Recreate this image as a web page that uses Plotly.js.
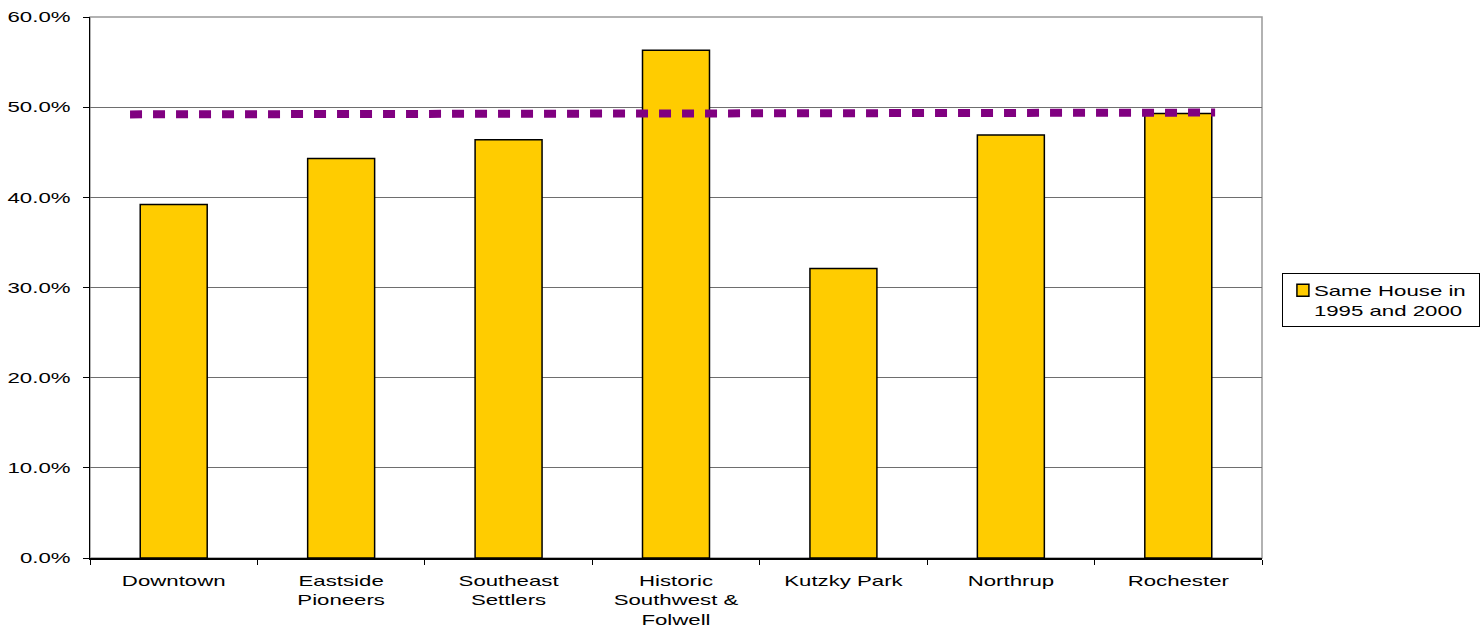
<!DOCTYPE html>
<html>
<head>
<meta charset="utf-8">
<script src="https://cdn.plot.ly/plotly-3.0.1.min.js"></script>
<style>
  html, body { margin: 0; padding: 0; background: #ffffff; }
  #chart { width: 1482px; height: 629px; }
</style>
</head>
<body>
<div id="chart"></div>
<script>
// Neighborhoods (category labels, with line breaks as shown on the axis)
const neighborhoods = [
  "Downtown",
  "Eastside<br>Pioneers",
  "Southeast<br>Settlers",
  "Historic<br>Southwest &<br>Folwell",
  "Kutzky Park",
  "Northrup",
  "Rochester"
];

// Share of residents living in the same house in 1995 and 2000 (percent)
const sameHouse = [39.2, 44.3, 46.4, 56.3, 32.1, 46.9, 49.3];

// City-wide reference line (start and end values, percent)
const cityLineX = [0, 1];
const cityLine = [49.2, 49.4];

const yTicks = [0, 10, 20, 30, 40, 50, 60];
const yTickText = yTicks.map(v => v.toFixed(1) + "%");

const font = { family: "Liberation Sans, Arial, sans-serif", size: 15, color: "#000000" };

// horizontal stretch applied to axis and legend lettering
const TEXT_STRETCH = 1.48;

const traces = [
  {
    type: "bar",
    name: "Same House in<br>1995 and 2000",
    x: neighborhoods,
    y: sameHouse,
    marker: { color: "#FFCC00", line: { color: "#000000", width: 1.5 } },
    hoverinfo: "x+y"
  },
  {
    type: "scatter",
    mode: "lines",
    x: cityLineX,
    y: cityLine,
    xaxis: "x2",
    yaxis: "y",
    showlegend: false,
    line: { color: "#800080", width: 8, dash: "12px,11px" },
    hoverinfo: "skip"
  }
];

const layout = {
  width: 1482,
  height: 629,
  margin: { l: 90, r: 220, t: 17, b: 71, pad: 0 },
  paper_bgcolor: "#ffffff",
  plot_bgcolor: "#ffffff",
  font: font,
  bargap: 0.6,
  showlegend: true,
  legend: {
    x: 1.017, xanchor: "left",
    y: 0.477, yanchor: "middle",
    valign: "top",
    bordercolor: "#000000",
    borderwidth: 1,
    bgcolor: "#ffffff",
    font: font,
    itemwidth: 30,
    tracegroupgap: 0
  },
  xaxis: {
    type: "category",
    range: [-0.5, 6.5],
    showgrid: false,
    showline: true,
    linecolor: "#000000",
    linewidth: 1.5,
    ticks: "outside",
    tickson: "boundaries",
    ticklen: 5,
    tickcolor: "#000000",
    tickwidth: 1,
    ticklabelstandoff: 8,
    tickfont: font,
    fixedrange: true,
    zeroline: false
  },
  xaxis2: {
    overlaying: "x",
    range: [-0.0369, 1.0432],
    visible: false,
    fixedrange: true
  },
  yaxis: {
    range: [0, 60],
    tickvals: yTicks,
    ticktext: yTickText,
    showgrid: true,
    gridcolor: "#6e6e6e",
    gridwidth: 1,
    showline: true,
    linecolor: "#000000",
    linewidth: 1.5,
    ticks: "outside",
    ticklen: 6,
    tickcolor: "#000000",
    tickwidth: 1,
    ticklabelstandoff: 9,
    tickfont: font,
    zeroline: false,
    fixedrange: true
  },
  shapes: [
    {
      type: "rect", xref: "paper", yref: "paper",
      x0: 0, x1: 1, y0: 0, y1: 1,
      line: { color: "#999999", width: 1.5 },
      layer: "below"
    }
  ]
};

// Stretch each text line horizontally; returns the widest stretched line
function stretchText(el, k) {
  const lines = el.querySelectorAll("tspan.line");
  const targets = lines.length ? Array.from(lines) : [el];
  let widest = 0;
  targets.forEach(t => {
    const w = t.getComputedTextLength() * k;
    t.setAttribute("textLength", w.toFixed(1));
    t.setAttribute("lengthAdjust", "spacingAndGlyphs");
    widest = Math.max(widest, w);
  });
  return widest;
}

Plotly.newPlot("chart", traces, layout, { displayModeBar: false, staticPlot: true }).then(gd => {
  gd.querySelectorAll(".xtick text, .ytick text").forEach(el => stretchText(el, TEXT_STRETCH));

  // legend: pull the label closer to its swatch and resize the frame around it
  const legendText = gd.querySelector(".legend .legendtext");
  const textShift = -9;
  legendText.setAttribute("transform", "translate(" + textShift + ",0)");
  const textW = stretchText(legendText, TEXT_STRETCH);
  const newW = 40 + textShift + textW + 14;
  const bg = gd.querySelector(".legend rect.bg");
  if (bg) bg.setAttribute("width", newW.toFixed(1));
  gd.querySelectorAll("clipPath[id^='legend'] rect").forEach(r => r.setAttribute("width", newW.toFixed(1)));
});
</script>
</body>
</html>
